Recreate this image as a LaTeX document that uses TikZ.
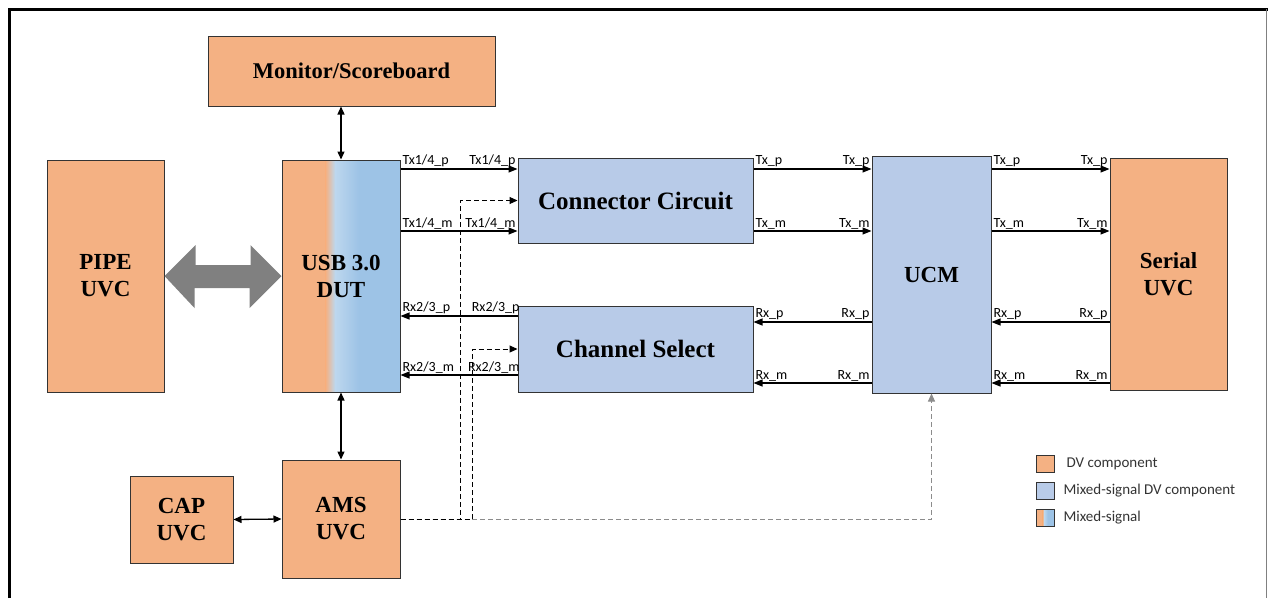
\documentclass[tikz,border=0pt]{standalone}
\usepackage{fontspec}
\setmainfont{Liberation Serif}
\newfontfamily\lblfont{Carlito}
\usetikzlibrary{arrows.meta,calc}

\definecolor{dvorange}{HTML}{F4B183}
\definecolor{msblue}{HTML}{B8CBE8}
\definecolor{mslight}{HTML}{BDD7EE}
\definecolor{msdark}{HTML}{9DC3E6}
\definecolor{ctlgray}{HTML}{8C8C8C}
\definecolor{bigarrow}{HTML}{808080}

\begin{document}
\begin{tikzpicture}[
    x=1pt, y=-1pt,
    blk/.style={draw=black!80, line width=1pt, align=center, inner sep=0pt,
        font=\fontsize{23}{27}\selectfont\bfseries},
    dvbox/.style={blk, fill=dvorange},
    msbox/.style={blk, fill=msblue},
    mixbox/.style={blk, path picture={
        \path (path picture bounding box.south west) coordinate (msw)
              (path picture bounding box.north east) coordinate (mne);
        \fill[dvorange] (msw) rectangle ($(msw |- mne)!0.37!(mne)$);
        \shade[left color=dvorange, right color=mslight]
            ($(msw)!0.37!(msw -| mne)$) rectangle ($(msw |- mne)!0.45!(mne)$);
        \shade[left color=mslight, right color=msdark]
            ($(msw)!0.45!(msw -| mne)$) rectangle ($(msw |- mne)!0.65!(mne)$);
        \fill[msdark] ($(msw)!0.65!(msw -| mne)$) rectangle (mne);
    }},
    sig/.style={line width=1.1pt, -{Triangle[length=9pt,width=7pt]}},
    bidir/.style={line width=1.3pt, {Triangle[length=8pt,width=7pt]}-{Triangle[length=8pt,width=7pt]}},
    ctl/.style={line width=1pt, dash pattern=on 5pt off 3pt, -{Triangle[length=8pt,width=7pt]}},
    lbl/.style={font=\lblfont\fontsize{14}{15}\selectfont, inner sep=1.5pt},
    leg/.style={font=\lblfont\fontsize{15}{17}\selectfont, text=black!80, anchor=west, inner sep=0pt}
]
\useasboundingbox (0,0) rectangle (1268,598);

% frame
\draw[line width=3pt] (9,598) -- (9,9) -- (1268,9);
\draw[black!50, line width=0.8pt] (1266,9) -- (1266,598);

% blocks
\node[dvbox, minimum width=287pt, minimum height=70pt, font=\fontsize{22.5}{26}\selectfont\bfseries] (mon) at (351.5,71) {Monitor/Scoreboard};
\node[dvbox, minimum width=117pt, minimum height=232pt] (pipe) at (105.5,276) {PIPE\\UVC};
\node[mixbox, minimum width=118pt, minimum height=232pt] (dut) at (341,276) {USB 3.0\\DUT};
\node[msbox, minimum width=235pt, minimum height=85pt, font=\fontsize{25}{29}\selectfont\bfseries] (cc) at (635.5,200.5) {Connector Circuit};
\node[msbox, minimum width=235pt, minimum height=86pt, font=\fontsize{25}{29}\selectfont\bfseries] (cs) at (635.5,349) {Channel Select};
\node[msbox, minimum width=119pt, minimum height=237pt] (ucm) at (931.5,274.5) {UCM};
\node[dvbox, minimum width=117pt, minimum height=232pt] (serial) at (1168.5,274) {Serial\\UVC};
\node[dvbox, minimum width=103pt, minimum height=87pt] (cap) at (181.5,519.5) {CAP\\UVC};
\node[dvbox, minimum width=118pt, minimum height=118pt] (ams) at (341,519) {AMS\\UVC};

% rows of the differential pairs
\coordinate (rTxp) at (0,169);
\coordinate (rTxm) at (0,231);
\coordinate (rRxp) at (0,316);
\coordinate (rRxm) at (0,375);
\coordinate (uRxp) at (0,322);
\coordinate (uRxm) at (0,383);
\coordinate (ctlA) at (460,0);
\coordinate (ctlB) at (472,0);

% two-way links
\fill[bigarrow] (pipe.east) -- ++(31,-31) -- ++(0,20) -- ++(55,0) -- ++(0,-20)
    -- (dut.west) -- ++(-32,32) -- ++(0,-20) -- ++(-55,0) -- ++(0,20) -- cycle;
\draw[bidir] (mon.south -| dut.north) -- (dut.north);
\draw[bidir] (dut.south) -- (ams.north);
\draw[bidir] (cap.east) -- (ams.west);

% Tx: DUT -> connector circuit
\draw[sig] (dut.east |- rTxp) -- node[lbl,pos=0,above right]{Tx1/4\_p} node[lbl,pos=1,above left]{Tx1/4\_p} (cc.west |- rTxp);
\draw[sig] (dut.east |- rTxm) -- node[lbl,pos=0,above right]{Tx1/4\_m} node[lbl,pos=1,above left]{Tx1/4\_m} (cc.west |- rTxm);

% Rx: channel select -> DUT
\draw[sig] (cs.west |- rRxp) -- node[lbl,pos=1,above right]{Rx2/3\_p} node[lbl,pos=0,above left,xshift=4pt]{Rx2/3\_p} (dut.east |- rRxp);
\draw[sig] (cs.west |- rRxm) -- node[lbl,pos=1,above right]{Rx2/3\_m} node[lbl,pos=0,above left,xshift=4pt]{Rx2/3\_m} (dut.east |- rRxm);

% Tx: connector circuit -> UCM -> serial
\draw[sig] (cc.east |- rTxp) -- node[lbl,pos=0,above right]{Tx\_p} node[lbl,pos=1,above left]{Tx\_p} (ucm.west |- rTxp);
\draw[sig] (cc.east |- rTxm) -- node[lbl,pos=0,above right]{Tx\_m} node[lbl,pos=1,above left]{Tx\_m} (ucm.west |- rTxm);
\draw[sig] (ucm.east |- rTxp) -- node[lbl,pos=0,above right]{Tx\_p} node[lbl,pos=1,above left]{Tx\_p} (serial.west |- rTxp);
\draw[sig] (ucm.east |- rTxm) -- node[lbl,pos=0,above right]{Tx\_m} node[lbl,pos=1,above left]{Tx\_m} (serial.west |- rTxm);

% Rx: serial -> UCM -> channel select
\draw[sig] (serial.west |- uRxp) -- node[lbl,pos=0,above left]{Rx\_p} node[lbl,pos=1,above right]{Rx\_p} (ucm.east |- uRxp);
\draw[sig] (serial.west |- uRxm) -- node[lbl,pos=0,above left]{Rx\_m} node[lbl,pos=1,above right]{Rx\_m} (ucm.east |- uRxm);
\draw[sig] (ucm.west |- uRxp) -- node[lbl,pos=0,above left]{Rx\_p} node[lbl,pos=1,above right]{Rx\_p} (cs.east |- uRxp);
\draw[sig] (ucm.west |- uRxm) -- node[lbl,pos=0,above left]{Rx\_m} node[lbl,pos=1,above right]{Rx\_m} (cs.east |- uRxm);

% control from AMS
\draw[ctl] (ams.east) -| (cc.west -| ctlA) -- (cc.west);
\draw[ctl] (ams.east) -| (cs.west -| ctlB) -- (cs.west);
\draw[ctl, ctlgray] (ams.east -| ctlB) -| (ucm.south);

% legend
\node[dvbox, minimum width=18pt, minimum height=17pt, line width=0.8pt] (legdv) at (1045,464) {};
\node[msbox, minimum width=18pt, minimum height=17pt, line width=0.8pt] (legms) at (1045,491) {};
\node[mixbox, minimum width=18pt, minimum height=17pt, line width=0.8pt] (legmix) at (1045,518) {};
\node[leg] (legdvt) at ([xshift=12pt]legdv.east) {DV component};
\node[leg] (legmst) at ([xshift=9pt]legms.east) {Mixed-signal DV component};
\node[leg] (legmixt) at ([xshift=9pt]legmix.east) {Mixed-signal};

\end{tikzpicture}
\end{document}
